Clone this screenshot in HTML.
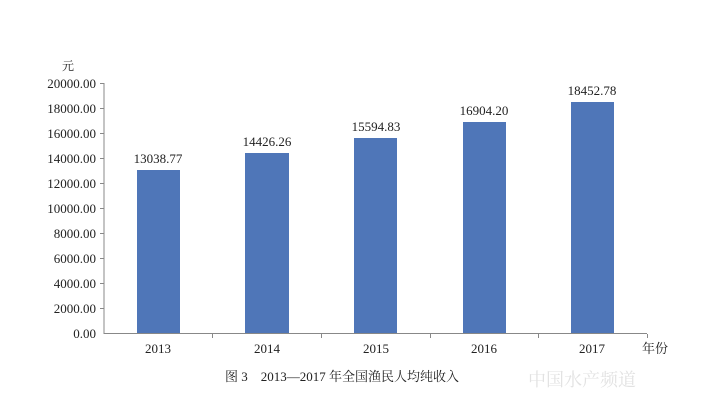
<!DOCTYPE html>
<html><head><meta charset="utf-8"><style>
body{margin:0;background:#fff;width:701px;height:405px;overflow:hidden}
text{font-family:"Liberation Serif","Noto Serif CJK SC",serif;fill:#222}
</style></head><body>
<svg width="701" height="405" viewBox="0 0 701 405">
<g font-size="13">
<text x="62" y="70" font-size="12">元</text>
<g text-anchor="end">
<text x="96" y="88">20000.00</text>
<text x="96" y="113">18000.00</text>
<text x="96" y="138">16000.00</text>
<text x="96" y="163">14000.00</text>
<text x="96" y="188">12000.00</text>
<text x="96" y="213">10000.00</text>
<text x="96" y="238">8000.00</text>
<text x="96" y="263">6000.00</text>
<text x="96" y="288">4000.00</text>
<text x="96" y="313">2000.00</text>
<text x="96" y="338">0.00</text>
</g>
</g>
<g stroke="#888" stroke-width="1">
<line x1="104" y1="83" x2="104" y2="334"/>
<line x1="104" y1="333.5" x2="647" y2="333.5"/>
<path d="M100 83.5h4M100 108.5h4M100 133.5h4M100 158.5h4M100 183.5h4M100 208.5h4M100 233.5h4M100 258.5h4M100 283.5h4M100 308.5h4"/>
<path d="M212.5 334v4M321.5 334v4M430.5 334v4M538.5 334v4M647.5 334v4"/>
</g>
<g fill="#4f76b8">
<rect x="137" y="170" width="43" height="163"/>
<rect x="245" y="153" width="44" height="180"/>
<rect x="354" y="138" width="43" height="195"/>
<rect x="463" y="122" width="43" height="211"/>
<rect x="571" y="102" width="43" height="231"/>
</g>
<g font-size="13" text-anchor="middle">
<text x="158" y="163">13038.77</text>
<text x="267" y="146">14426.26</text>
<text x="376" y="131">15594.83</text>
<text x="484" y="115">16904.20</text>
<text x="592" y="95">18452.78</text>
<text x="158" y="353">2013</text>
<text x="267" y="353">2014</text>
<text x="376" y="353">2015</text>
<text x="484" y="353">2016</text>
<text x="592" y="353">2017</text>
</g>
<text x="642" y="353" font-size="13">年份</text>
<text x="225" y="381" font-size="13">图 3　2013—2017 年全国渔民人均纯收入</text>
<text x="528" y="386" font-size="18" fill="#ddd" style="fill:#e2e2e2">中国水产频道</text>
</svg>
</body></html>
